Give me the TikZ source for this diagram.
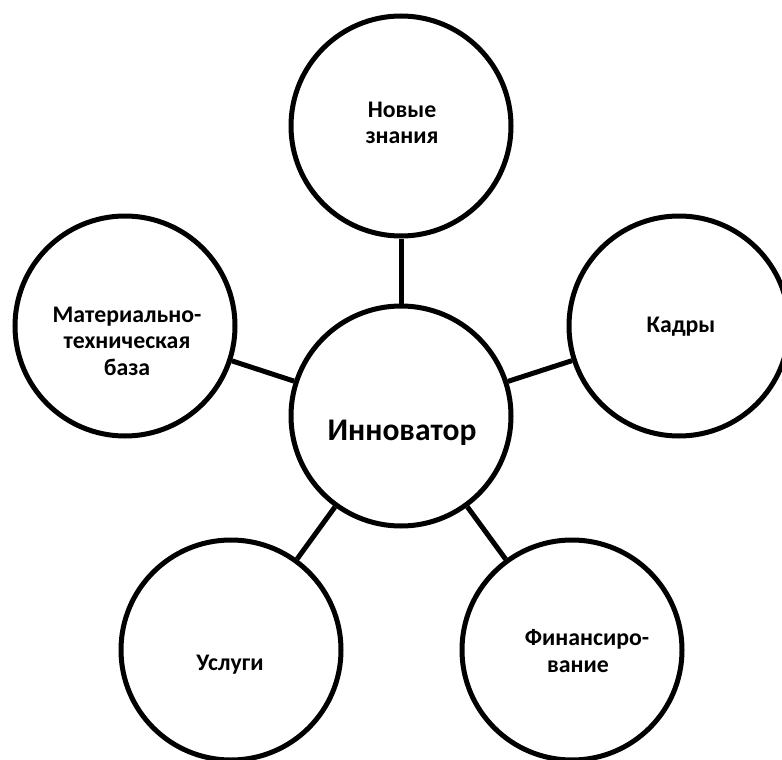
\documentclass[tikz,border=0pt]{standalone}
\usepackage{fontspec}
\setmainfont{Carlito}
\begin{document}
\begin{tikzpicture}[x=1pt,y=-1pt,
  bub/.style={circle, draw, line width=5pt, minimum size=220pt, inner sep=0pt, fill=white},
  lbl/.style={font=\bfseries\fontsize{23.8}{26.5}\selectfont, align=center, inner sep=0pt},
  big/.style={font=\bfseries\fontsize{31.5}{36}\selectfont, inner sep=0pt},
  link/.style={line width=5pt}]
\useasboundingbox (0,0) rectangle (782,760);
\node[bub] (c)  at (401,416) {};
\node[bub] (t)  at (401,126) {};
\node[bub] (l)  at (125,326) {};
\node[bub] (r)  at (679,326) {};
\node[bub] (bl) at (231,650) {};
\node[bub] (br) at (572,650) {};
\draw[link] (c) -- (t);
\draw[link] (c) -- (l);
\draw[link] (c) -- (r);
\draw[link] (c) -- (bl);
\draw[link] (c) -- (br);
\node[big] (ct) at (402,433) {Инноватор};
\node[lbl] (tt) at (402,123) {Новые\\знания};
\node[lbl] (lt) at (127,341) {Материально-\\техническая\\база};
\node[lbl] (rt) at (681,327) {Кадры};
\node[lbl] (blt) at (230,665) {Услуги};
\node[lbl] (brt) at (587,651) {Финансиро-\\вание\hspace*{18pt}};
\end{tikzpicture}
\end{document}
